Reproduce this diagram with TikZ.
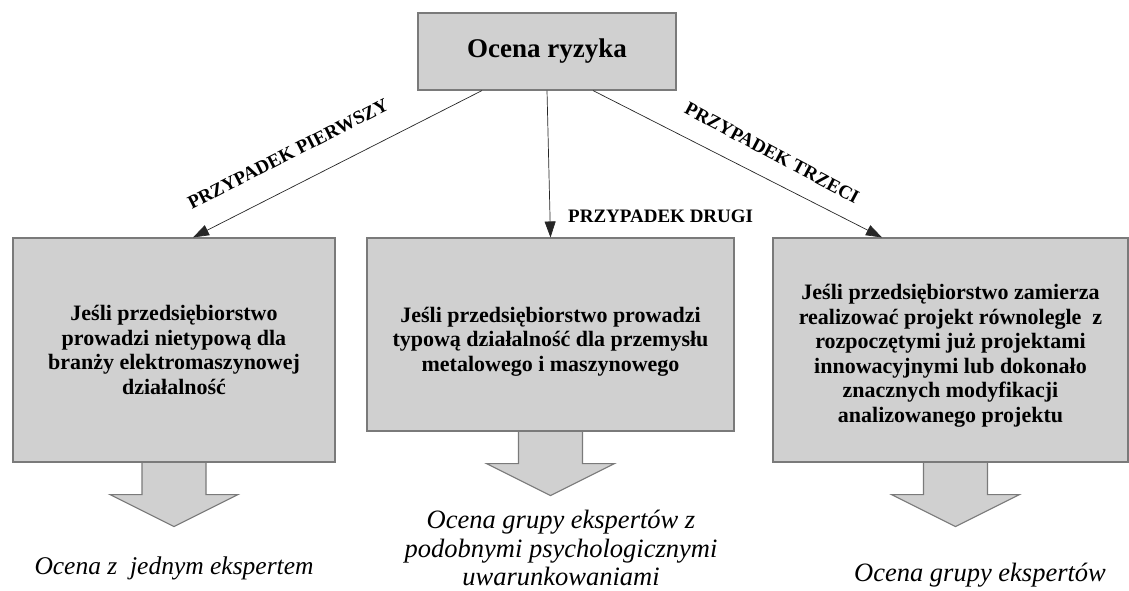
\documentclass[tikz,border=0pt]{standalone}
\usepackage{fontspec}
\setmainfont{Liberation Serif}
\usetikzlibrary{arrows.meta,calc}
\definecolor{boxfill}{HTML}{D0D0D0}
\definecolor{boxline}{HTML}{7A7A7A}
\tikzset{
  box/.style={draw=boxline, fill=boxfill, line width=1.1pt, inner sep=0pt},
  boxtext/.style={inner sep=0pt, align=center, font=\bfseries\fontsize{22}{24.5}\selectfont},
  barrow/.style={draw=boxline, fill=boxfill, line width=1.1pt, line join=miter},
  conn/.style={draw=black!85, line width=0.7pt, -{Triangle[length=16pt,width=11pt]}},
  lab/.style={inner sep=0pt, font=\bfseries\fontsize{19}{21}\selectfont},
  itl/.style={inner sep=0pt, align=center, font=\itshape\fontsize{26.5}{28.5}\selectfont},
  blockarrow/.pic={\path[barrow] (-32,0.6) -- (-32,32) -- (-64,32) -- (0,64) -- (64,32) -- (32,32) -- (32,0.6);}
}
\begin{document}
\begin{tikzpicture}[x=1pt,y=-1pt]
\useasboundingbox (0,0) rectangle (1129,591);
\node[box, minimum width=258pt, minimum height=77pt, font=\bfseries\fontsize{27}{30}\selectfont] (top) at (547,51.5) {Ocena ryzyka};
\node[box, minimum width=322pt, minimum height=224pt] (b1) at (174,350) {};
\node[box, minimum width=367pt, minimum height=193pt] (b2) at (550.5,334.5) {};
\node[box, minimum width=355pt, minimum height=224pt] (b3) at (950.5,350) {};
\node[boxtext] (t1) at (b1.center) {Jeśli przedsiębiorstwo\\prowadzi nietypową dla\\branży elektromaszynowej\\działalność};
\node[boxtext] (t2) at ([yshift=-7pt]b2.center) {Jeśli przedsiębiorstwo prowadzi\\typową działalność dla przemysłu\\metalowego i maszynowego};
\node[boxtext] (t3) at ([yshift=-6pt]b3.center) {Jeśli przedsiębiorstwo zamierza\\realizować projekt równolegle\ \ z\\rozpoczętymi już projektami\\innowacyjnymi lub dokonało\\znacznych modyfikacji\\analizowanego projektu};
\pic at (b1.south) {blockarrow};
\pic at (b2.south) {blockarrow};
\pic at ([xshift=5pt]b3.south) {blockarrow};
\draw[conn] ([xshift=-65pt]top.south) -- ([xshift=19pt]b1.north);
\draw[conn] (top.south) -- (b2.north);
\draw[conn] ([xshift=46pt]top.south) -- ([xshift=-68.5pt]b3.north);
\node[lab, rotate=27] (l1) at (288,154) {PRZYPADEK PIERWSZY};
\node[lab, anchor=base west] (l2) at (568,222) {PRZYPADEK DRUGI};
\node[lab, rotate=-28] (l3) at (772,153) {PRZYPADEK TRZECI};
\node[itl, font=\itshape\fontsize{25.5}{29}\selectfont] (o1) at (174,568) {Ocena z\ \ jednym ekspertem};
\node[itl] (o2) at (561,548) {Ocena grupy ekspertów z\\podobnymi psychologicznymi\\uwarunkowaniami};
\node[itl] (o3) at (980,575) {Ocena grupy ekspertów};
\end{tikzpicture}
\end{document}
